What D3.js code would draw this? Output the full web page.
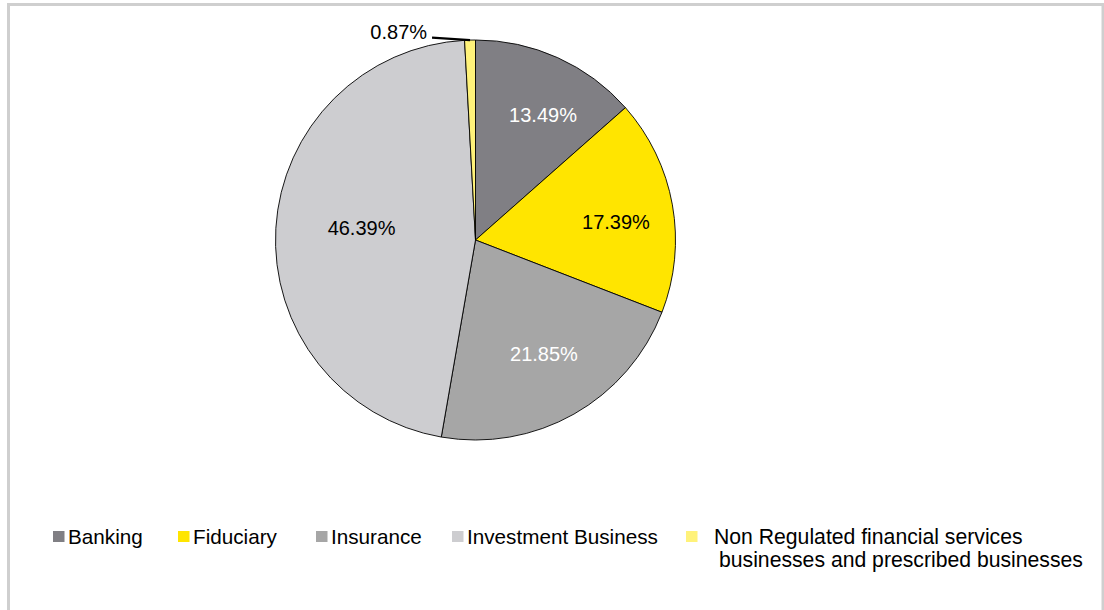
<!DOCTYPE html>
<html>
<head>
<meta charset="utf-8">
<script src="https://cdn.jsdelivr.net/npm/d3@7"></script>
<style>
  html, body { margin: 0; padding: 0; background: #ffffff; }
  svg { display: block; font-family: "Liberation Sans", Arial, sans-serif; }
</style>
</head>
<body>
<svg id="chart" width="1104" height="610"></svg>
<script>
// Share of sector by business type (percent)
const categories = [
  "Banking",
  "Fiduciary",
  "Insurance",
  "Investment Business",
  "Non Regulated financial services businesses and prescribed businesses"
];
const values = [13.49, 17.39, 21.85, 46.39, 0.87];
const valueLabels = ["13.49%", "17.39%", "21.85%", "46.39%", "0.87%"];
const legendLines = [
  ["Banking"],
  ["Fiduciary"],
  ["Insurance"],
  ["Investment Business"],
  ["Non Regulated financial services", "businesses and prescribed businesses"]
];
const colors = ["#807f84", "#ffe500", "#a6a6a6", "#cdcdd0", "#fff27a"];
const labelColors = ["#ffffff", "#000000", "#ffffff", "#000000", "#000000"];

const svg = d3.select("#chart");

// outer frame
svg.append("rect")
  .attr("x", 8.5).attr("y", 4.5)
  .attr("width", 1094.5).attr("height", 640)
  .attr("fill", "#ffffff")
  .attr("stroke", "#cfcfcf")
  .attr("stroke-width", 3);

const cx = 475.5, cy = 240, R = 200;

const pie = d3.pie().sort(null).value(d => d)
  .startAngle(0).endAngle(2 * Math.PI);
const arcs = pie(values);
const arc = d3.arc().innerRadius(0).outerRadius(R);

const g = svg.append("g").attr("transform", `translate(${cx},${cy})`);

g.selectAll("path.slice")
  .data(arcs)
  .join("path")
  .attr("class", "slice")
  .attr("d", arc)
  .attr("fill", (d, i) => colors[i])
  .attr("stroke", "#000000")
  .attr("stroke-width", 0.9);

// in-slice label placement: distance as a fraction of the radius,
// plus a small angular nudge (degrees) away from the slice's mid angle
const labelRadius = [0.71, 0.708, 0.663, 0.573];
const labelNudge = [4.1, 2.8, -1.6, 2.7];

arcs.forEach((d, i) => {
  if (i === arcs.length - 1) return;
  const a = (d.startAngle + d.endAngle) / 2 + labelNudge[i] * Math.PI / 180;
  const r = R * labelRadius[i];
  g.append("text")
    .attr("x", Math.sin(a) * r)
    .attr("y", -Math.cos(a) * r)
    .attr("dy", "0.35em")
    .attr("text-anchor", "middle")
    .attr("font-size", 20)
    .attr("fill", labelColors[i])
    .text(valueLabels[i]);
});

// small slice: label outside with a leader line
{
  const d = arcs[arcs.length - 1];
  const a = (d.startAngle + d.endAngle) / 2;
  const px = Math.sin(a) * R, py = -Math.cos(a) * R;
  const lx = px - 38, ly = py - 2.5;
  g.append("line")
    .attr("x1", lx).attr("y1", ly)
    .attr("x2", px).attr("y2", py)
    .attr("stroke", "#000000")
    .attr("stroke-width", 2.4);
  g.append("text")
    .attr("x", lx - 5)
    .attr("y", ly + 1)
    .attr("text-anchor", "end")
    .attr("font-size", 20)
    .attr("fill", "#000000")
    .text(valueLabels[arcs.length - 1]);
}

// legend
const legendTextX = [68, 193, 331, 467, 714];
const legendBaseline = 544;
const legend = svg.append("g");
categories.forEach((c, i) => {
  const tx = legendTextX[i];
  const sx = i === 4 ? 686 : tx - 15;
  legend.append("rect")
    .attr("x", sx).attr("y", legendBaseline - 13)
    .attr("width", 11.5).attr("height", 11)
    .attr("fill", colors[i]);
  const t = legend.append("text")
    .attr("x", tx)
    .attr("y", legendBaseline)
    .attr("font-size", i === 4 ? 21.2 : 20.7)
    .attr("fill", "#000000");
  legendLines[i].forEach((line, k) => {
    t.append("tspan")
      .attr("x", k === 0 ? tx : tx + 5)
      .attr("dy", k === 0 ? 0 : 23)
      .text(line);
  });
});
</script>
</body>
</html>
